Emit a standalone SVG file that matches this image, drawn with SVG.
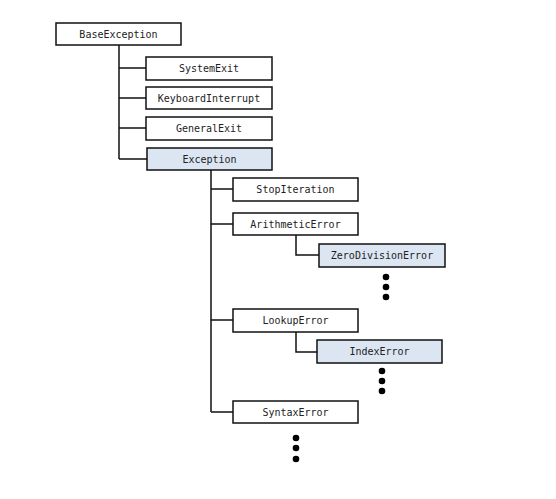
<svg xmlns="http://www.w3.org/2000/svg" width="556" height="499" viewBox="0 0 556 499">
<style>
.n rect{fill:#fff;stroke:#111;stroke-width:1.5}
.n.h rect{fill:#dce6f2}
.n text{font-family:"DejaVu Sans Mono","Liberation Mono",monospace;font-size:10px;fill:#222;text-anchor:middle}
.c path{fill:none;stroke:#111;stroke-width:1.5}
.d circle{fill:#000}
</style>
<g class="c">
<path d="M119 45V159M119 68H146M119 98H146M119 128H146M119 159H147"/>
<path d="M211 170V412M211 189H233M211 224H233M211 320H233M211 412H233"/>
<path d="M296 235V255H319"/>
<path d="M296 332V352H317"/>
</g>
<g id="BaseException" class="n"><rect x="56" y="23" width="125" height="22"/><text x="118.5" y="37.5">BaseException</text></g>
<g id="SystemExit" class="n"><rect x="146" y="57" width="126" height="23"/><text x="209" y="72">SystemExit</text></g>
<g id="KeyboardInterrupt" class="n"><rect x="146" y="87" width="126" height="22"/><text x="209" y="101.5">KeyboardInterrupt</text></g>
<g id="GeneralExit" class="n"><rect x="146" y="117" width="126" height="23"/><text x="209" y="132">GeneralExit</text></g>
<g id="Exception" class="n h"><rect x="147" y="148" width="125" height="22"/><text x="209.5" y="162.5">Exception</text></g>
<g id="StopIteration" class="n"><rect x="233" y="178" width="125" height="23"/><text x="295.5" y="193">StopIteration</text></g>
<g id="ArithmeticError" class="n"><rect x="233" y="213" width="125" height="22"/><text x="295.5" y="227.5">ArithmeticError</text></g>
<g id="ZeroDivisionError" class="n h"><rect x="319" y="244" width="126" height="23"/><text x="382" y="259">ZeroDivisionError</text></g>
<g id="LookupError" class="n"><rect x="233" y="309" width="125" height="23"/><text x="295.5" y="324">LookupError</text></g>
<g id="IndexError" class="n h"><rect x="317" y="340" width="125" height="23"/><text x="379.5" y="355">IndexError</text></g>
<g id="SyntaxError" class="n"><rect x="233" y="401" width="125" height="22"/><text x="295.5" y="415.5">SyntaxError</text></g>
<g class="d">
<circle cx="386" cy="277" r="3.3"/><circle cx="386" cy="287" r="3.3"/><circle cx="386" cy="297" r="3.3"/>
<circle cx="382" cy="371" r="3.3"/><circle cx="382" cy="381" r="3.3"/><circle cx="382" cy="391" r="3.3"/>
<circle cx="296" cy="438" r="3.3"/><circle cx="296" cy="448" r="3.3"/><circle cx="296" cy="459" r="3.3"/>
</g>
</svg>
